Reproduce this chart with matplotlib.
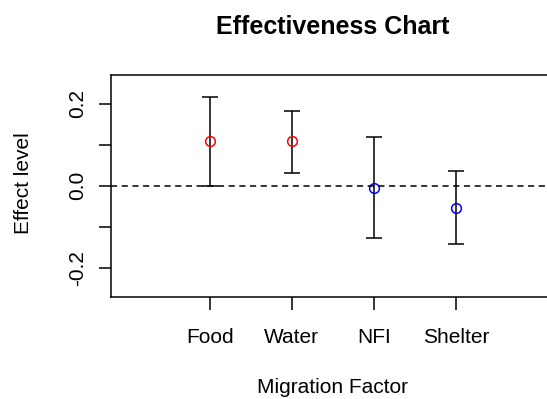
import matplotlib.pyplot as plt

factors = ["Food", "Water", "NFI", "Shelter"]
effect = [0.108, 0.108, -0.005, -0.055]
lower = [0.0, 0.032, -0.127, -0.143]
upper = [0.216, 0.183, 0.118, 0.035]
colors = ["red", "red", "blue", "blue"]

plt.rcParams['font.family'] = ['Liberation Sans', 'DejaVu Sans']

fig = plt.figure(figsize=(5.47, 3.99), dpi=100)
ax = fig.add_axes([0.2029, 0.2556, 0.8117, 0.5564])

xs = list(range(1, len(factors) + 1))
for x, e, lo, hi, c in zip(xs, effect, lower, upper, colors):
    ax.errorbar(x, e, yerr=[[e - lo], [hi - e]], fmt='none', ecolor='black',
                elinewidth=1.1, capsize=6, capthick=1.1)
    ax.plot(x, e, 'o', mfc='none', mec=c, ms=7, mew=1.1)

ax.axhline(0, color='black', linestyle=(0, (4, 3)), linewidth=1.1)

ax.set_xlim(-0.2, 5.2)
ax.set_ylim(-0.271, 0.27)
ax.set_xticks(xs)
ax.set_xticklabels(factors, fontsize=15)
ax.set_yticks([-0.2, -0.1, 0.0, 0.1, 0.2])
ax.set_yticklabels(["-0.2", "", "0.0", "", "0.2"], fontsize=15, rotation=90, va='center')
ax.tick_params(length=9, width=1.1)
ax.tick_params(axis='x', pad=13)
ax.tick_params(axis='y', pad=8)
for s in ax.spines.values():
    s.set_linewidth(1.1)

fig.text(0.608, 0.030, "Migration Factor", ha='center', va='center', fontsize=15)
fig.text(0.043, 0.540, "Effect level", ha='center', va='center', fontsize=15, rotation=90)
fig.text(0.608, 0.933, "Effectiveness Chart", ha='center', va='center',
         fontsize=18, fontweight='bold')

fig.savefig("out.png", dpi=100)
